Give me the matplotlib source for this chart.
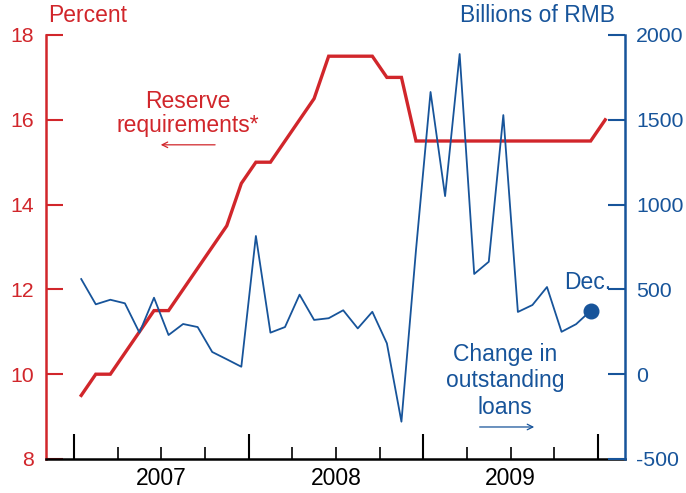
import matplotlib
matplotlib.use("Agg")
import matplotlib.pyplot as plt
import numpy as np

plt.rcParams['font.family'] = ['Liberation Sans', 'DejaVu Sans']
plt.rcParams['axes.unicode_minus'] = False

RED = '#D1262B'
BLUE = '#17549A'

# Reserve requirement ratio (percent), monthly Jan 2007 .. Jan 2010
reserve = [9.5, 10.0, 10.0, 10.5, 11.0, 11.5, 11.5, 12.0, 12.5, 13.0, 13.5, 14.5,
           15.0, 15.0, 15.5, 16.0, 16.5, 17.5, 17.5, 17.5, 17.5, 17.0, 17.0, 15.5,
           15.5, 15.5, 15.5, 15.5, 15.5, 15.5, 15.5, 15.5, 15.5, 15.5, 15.5, 15.5,
           16.0]
# Change in outstanding loans (billions of RMB), monthly Jan 2007 .. Dec 2009
loans = [561, 412, 439, 418, 245, 451, 231, 296, 278, 131, 88, 44,
         815, 245, 278, 469, 320, 330, 377, 270, 368, 182, -280, 732,
         1664, 1050, 1888, 591, 663, 1528, 367, 408, 514, 250, 295, 374]
year_labels = ['2007', '2008', '2009']
first_year = 2007

t_res = first_year + (np.arange(len(reserve)) + 0.5) / 12
t_loan = first_year + (np.arange(len(loans)) + 0.5) / 12

W, H = 686, 493
fig = plt.figure(figsize=(W / 100, H / 100), dpi=100)
ax = fig.add_axes([46 / W, 1 - 459 / H, (625 - 46) / W, (459 - 35) / H])
ax2 = ax.twinx()

ax.plot(t_res, reserve, color=RED, lw=2.4, solid_joinstyle='miter', zorder=3)
ax2.plot(t_loan, loans, color=BLUE, lw=1.3, zorder=3)
ax2.plot(t_loan[-1], loans[-1], 'o', color=BLUE, ms=10.5, zorder=4)

ax.set_xlim(2006.84, 2010.155)
ax.set_ylim(8, 18)
ax2.set_ylim(-500, 2000)

ax.set_yticks([8, 10, 12, 14, 16, 18])
ax2.set_yticks([-500, 0, 500, 1000, 1500, 2000])

fs = 16.5
yfs = 15.3
ax.tick_params(axis='y', direction='in', length=12, width=1.5, colors=RED,
               labelsize=yfs, pad=9)
ax2.tick_params(axis='y', direction='in', length=12, width=1.5, colors=BLUE,
                labelsize=yfs, pad=8)

ax.set_xticks([2007, 2008, 2009, 2010])
ax.set_xticks([2007 + q / 4 for q in range(1, 12)], minor=True)
ax.tick_params(axis='x', which='major', direction='in', length=18, width=1.5,
               color='black', labelbottom=False)
ax.tick_params(axis='x', which='minor', direction='in', length=9, width=1.2,
               color='black', labelbottom=False)
for i, lab in enumerate(year_labels):
    ax.text(first_year + i + 0.5, -0.045, lab, transform=ax.get_xaxis_transform(),
            ha='center', va='center', fontsize=fs, color='black')

for a in (ax, ax2):
    a.spines['top'].set_visible(False)
ax.spines['right'].set_visible(False)
ax.spines['left'].set_color(RED)
ax.spines['left'].set_linewidth(1.8)
ax.spines['bottom'].set_color('black')
ax.spines['bottom'].set_linewidth(1.8)
ax2.spines['left'].set_visible(False)
ax2.spines['bottom'].set_visible(False)
ax2.spines['right'].set_color(BLUE)
ax2.spines['right'].set_linewidth(1.8)

fig.text(48 / W, 1 - 15 / H, 'Percent', color=RED, fontsize=fs, ha='left', va='center')
fig.text(615 / W, 1 - 15 / H, 'Billions of RMB', color=BLUE, fontsize=fs,
         ha='right', va='center')

ax.text(2007.653, 16.15, 'Reserve\nrequirements*', color=RED, fontsize=fs,
        ha='center', va='center', linespacing=1.1)
ax.annotate('', xy=(2007.481, 15.41), xytext=(2007.824, 15.41),
            arrowprops=dict(arrowstyle='->', color=RED, lw=0.9, mutation_scale=10))

ax.text(2009.943, 12.17, 'Dec.', color=BLUE, fontsize=fs, ha='center', va='center')
ax.text(2009.467, 9.84, 'Change in\noutstanding\nloans', color=BLUE, fontsize=fs,
        ha='center', va='center', linespacing=1.2)
ax.annotate('', xy=(2009.651, 8.755), xytext=(2009.307, 8.755),
            arrowprops=dict(arrowstyle='->', color=BLUE, lw=0.9, mutation_scale=10))

fig.savefig('out.png', dpi=100)
